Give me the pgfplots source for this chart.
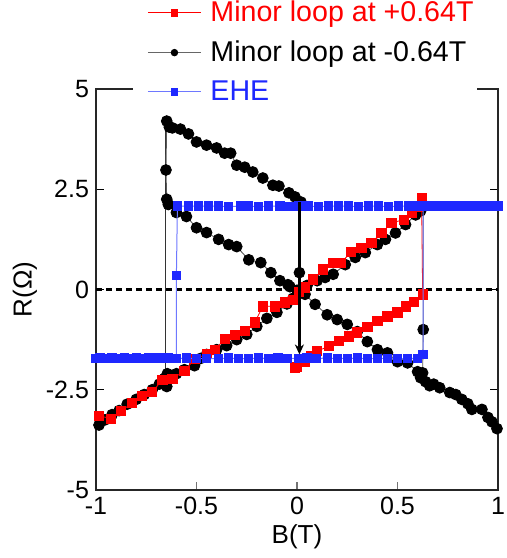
\documentclass[border=0pt]{standalone}
\usepackage{fontspec}
\setmainfont{Liberation Sans}
\usepackage{pgfplots}
\pgfplotsset{compat=1.18}
\usetikzlibrary{arrows.meta}
\definecolor{myred}{RGB}{255,0,0}
\definecolor{myblue}{RGB}{30,40,255}
\definecolor{lblue}{RGB}{110,120,255}
\begin{document}
\begin{tikzpicture}
\begin{axis}[name=ax, scale only axis, width=201pt, height=200.5pt,
  xmin=-1, xmax=1, ymin=-5, ymax=5,
  xtick={-1,-0.5,0,0.5,1}, xticklabels={-1,-0.5,0,0.5,1},
  ytick={-5,-2.5,0,2.5,5}, yticklabels={-5,-2.5,0,2.5,5},
  tick align=inside, xtick pos=bottom, ytick pos=both,
  major tick length=4pt,
  tick style={black, line width=0.6pt},
  x tick style={black!55},
  axis line style={line width=0.9pt, black!85},
  ticklabel style={font=\fontsize{12.5}{14}\selectfont},
  xlabel={B(T)}, ylabel={R(Ω)},
  label style={font=\fontsize{13}{15}\selectfont},
  x label style={at={(axis description cs:0.5,-0.117)}, anchor=center},
  y label style={at={(axis description cs:-0.177,0.5)}, anchor=center},
  clip mode=individual,
  legend cell align=left,
  legend style={at={(rel axis cs:0.127,1.092)}, anchor=west, draw=none, fill=none,
    inner sep=0pt, font=\fontsize{14.3}{16}\selectfont, row sep=4pt, column sep=2.5pt},
  legend image code/.code={\draw[mark repeat=2, mark phase=2, #1, mark size=1.6pt]
    plot coordinates {(0pt,0pt) (13.25pt,0pt) (26.5pt,0pt)};},
]
\addlegendimage{myred, line width=0.5pt, mark=square*, mark options={solid, fill=myred, draw=myred}}
\addlegendentry{\textcolor{myred}{Minor loop at +0.64T}}
\addlegendimage{black!60, line width=0.5pt, mark=*, mark options={solid, fill=black, draw=black}}
\addlegendentry{Minor loop at -0.64T}
\addlegendimage{lblue, line width=0.5pt, mark=square*, mark options={solid, fill=myblue, draw=myblue}}
\addlegendentry{\textcolor{myblue}{EHE}}

% zero line
\addplot[forget plot, black, line width=1.1pt, dash pattern=on 3pt off 2pt] coordinates {(-1,0) (1,0)};

% black: vertical switching line at -0.65
\addplot[forget plot, black!80, line width=0.5pt] coordinates {(-0.652,-2.25) (-0.652,4.2)};

% black: rising branch + switch at +0.63 + high-field
\addplot[forget plot, black!65, line width=0.45pt, mark=*, mark size=2.7pt, mark options={fill=black, draw=black}] coordinates {
(-0.985,-3.38) (-0.955,-3.25) (-0.92,-3.12) (-0.885,-3.02) (-0.845,-2.86) (-0.80,-2.74)
(-0.76,-2.62) (-0.72,-2.50) (-0.685,-2.36) (-0.66,-2.22) (-0.648,-2.42) (-0.645,-2.10)
(-0.63,-2.18) (-0.60,-2.10) (-0.56,-2.00) (-0.51,-1.90) (-0.48,-1.72) (-0.45,-1.62)
(-0.40,-1.50) (-0.35,-1.40) (-0.30,-1.25) (-0.25,-1.12) (-0.20,-0.92) (-0.15,-0.72)
(-0.10,-0.57) (-0.05,-0.36) (-0.02,-0.22) (0.02,-0.02) (0.05,0.10) (0.10,0.22)
(0.14,0.30) (0.18,0.38) (0.24,0.62) (0.29,0.80) (0.34,0.92) (0.40,1.12) (0.44,1.25)
(0.49,1.41) (0.54,1.62) (0.59,1.86) (0.615,1.96) (0.628,2.08) (0.628,-1.0)
(0.625,-2.08) (0.615,-2.20) (0.64,-2.30) (0.66,-2.40) (0.68,-2.36) (0.71,-2.45)
(0.76,-2.57) (0.79,-2.62) (0.82,-2.74) (0.85,-2.85) (0.87,-2.99) (0.92,-2.99)
(0.95,-3.19) (0.97,-3.30) (0.995,-3.47)
};

% black: descending branch + switch at -0.65 + minor-loop upper branch
\addplot[forget plot, black!65, line width=0.45pt, mark=*, mark size=2.7pt, mark options={fill=black, draw=black}] coordinates {
(0.60,-2.05) (0.55,-1.83) (0.50,-1.80) (0.45,-1.58) (0.40,-1.50) (0.35,-1.30)
(0.30,-1.05) (0.25,-0.87) (0.20,-0.75) (0.15,-0.63) (0.09,-0.37) (0.04,-0.12)
(0.0,-0.02) (-0.035,0.07) (-0.045,0.12) (-0.085,0.22) (-0.13,0.42) (-0.18,0.67)
(-0.24,0.74) (-0.30,1.07) (-0.34,1.12) (-0.39,1.25) (-0.45,1.42) (-0.50,1.54)
(-0.55,1.82) (-0.60,1.92) (-0.64,2.12) (-0.648,2.25) (-0.652,2.98) (-0.648,4.20)
(-0.635,4.05) (-0.62,4.03) (-0.58,4.00) (-0.54,3.88) (-0.50,3.68) (-0.45,3.60)
(-0.40,3.53) (-0.36,3.40) (-0.33,3.40) (-0.30,3.10) (-0.26,3.05) (-0.22,2.93)
(-0.17,2.78) (-0.12,2.60) (-0.09,2.58) (-0.04,2.41) (-0.01,2.31) (0.02,2.18)
};

% red minor loop at +0.64T
\addplot[forget plot, myred, line width=0.4pt, mark=square*, mark size=2.3pt, mark options={fill=myred, draw=myred}] coordinates {
(-0.985,-3.15) (-0.925,-3.22) (-0.875,-3.03) (-0.82,-2.83) (-0.77,-2.65) (-0.72,-2.55)
(-0.67,-2.26) (-0.62,-2.23) (-0.56,-2.03) (-0.51,-1.74) (-0.45,-1.61) (-0.41,-1.51)
(-0.36,-1.24) (-0.31,-1.14) (-0.26,-1.04) (-0.21,-0.82) (-0.17,-0.42) (-0.11,-0.42)
(-0.06,-0.32) (-0.02,-0.25) (0.01,-0.05) (0.04,0.05) (0.08,0.25) (0.13,0.50)
(0.18,0.67) (0.22,0.67) (0.27,0.94) (0.32,1.04) (0.37,1.17) (0.42,1.41) (0.47,1.66)
(0.53,1.74) (0.57,1.91) (0.60,2.06) (0.62,2.28)
(0.625,-0.12) (0.58,-0.30) (0.54,-0.42) (0.50,-0.57) (0.45,-0.67) (0.40,-0.79)
(0.35,-0.94) (0.30,-1.07) (0.26,-1.17) (0.21,-1.29) (0.16,-1.41) (0.10,-1.54)
(0.07,-1.66) (0.04,-1.81) (0.00,-1.94) (-0.01,-1.95)
};

% blue EHE: lower branch, switch at +0.63, high field
\addplot[forget plot, lblue, line width=0.5pt, mark=square*, mark size=2.05pt, mark options={fill=myblue, draw=myblue}] coordinates {
(-1.00,-1.72) (-0.98,-1.71) (-0.96,-1.72) (-0.94,-1.72) (-0.92,-1.71) (-0.90,-1.72)
(-0.88,-1.72) (-0.86,-1.71) (-0.84,-1.72) (-0.82,-1.72) (-0.80,-1.71) (-0.78,-1.72)
(-0.76,-1.72) (-0.74,-1.71) (-0.72,-1.70) (-0.70,-1.72) (-0.68,-1.71) (-0.66,-1.72)
(-0.64,-1.71) (-0.62,-1.73) (-0.60,-1.72)
(-0.55,-1.71) (-0.50,-1.72) (-0.45,-1.73) (-0.39,-1.72) (-0.34,-1.71) (-0.29,-1.73)
(-0.24,-1.72) (-0.19,-1.71) (-0.14,-1.72) (-0.095,-1.71) (-0.05,-1.72) (0.01,-1.72)
(0.05,-1.71) (0.095,-1.72) (0.15,-1.71) (0.20,-1.72) (0.25,-1.72) (0.30,-1.71)
(0.35,-1.73) (0.40,-1.72) (0.45,-1.72) (0.50,-1.73) (0.55,-1.72) (0.60,-1.72)
(0.627,-1.62) (0.627,2.08)
(0.64,2.08) (0.66,2.09) (0.68,2.08) (0.70,2.08) (0.72,2.09) (0.74,2.08) (0.76,2.08)
(0.78,2.08) (0.80,2.09) (0.82,2.08) (0.84,2.08) (0.86,2.08) (0.88,2.08) (0.90,2.09)
(0.92,2.08) (0.94,2.08) (0.96,2.08) (0.98,2.08) (1.00,2.08)
};

% blue EHE: upper branch, switch at -0.60
\addplot[forget plot, lblue, line width=0.5pt, mark=square*, mark size=2.05pt, mark options={fill=myblue, draw=myblue}] coordinates {
(0.60,2.08) (0.555,2.08) (0.505,2.08) (0.455,2.07) (0.405,2.08) (0.355,2.08)
(0.305,2.07) (0.255,2.08) (0.205,2.08) (0.155,2.08) (0.105,2.07) (0.055,2.08)
(0.01,2.08) (-0.035,2.07) (-0.085,2.08) (-0.14,2.08) (-0.19,2.07) (-0.24,2.08)
(-0.28,2.08) (-0.34,2.07) (-0.39,2.08) (-0.44,2.08) (-0.49,2.08) (-0.54,2.08)
(-0.595,2.08) (-0.600,0.35) (-0.600,-1.72)
};

% black arrow at B = 0
\addplot[forget plot, black, line width=1.1pt, -{Stealth[length=5pt,width=4.5pt]}] coordinates {(0.012,2.18) (0.012,-1.62)};
\addplot[forget plot, only marks, mark=*, mark size=2.7pt, mark options={fill=black, draw=black}] coordinates {(0.012,0.42)};

% the legend covers the top frame line in the reference
\fill[white] (axis cs:-0.815,4.93) rectangle (axis cs:0.895,5.07);
\end{axis}
\pgfresetboundingbox
\path ([xshift=-48pt,yshift=-34pt]ax.south west) rectangle ([xshift=4.5pt,yshift=44.5pt]ax.north east);
\end{tikzpicture}
\end{document}
